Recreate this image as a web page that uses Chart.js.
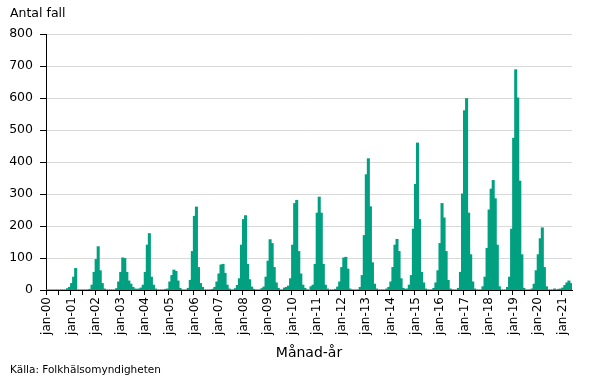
<!DOCTYPE html>
<html><head><meta charset="utf-8">
<script src="https://cdn.jsdelivr.net/npm/chart.js@4.4.1/dist/chart.umd.min.js"></script>
<style>
html,body{margin:0;padding:0;background:#fff;}
#wrap{position:relative;width:605px;height:378px;overflow:hidden;}
canvas{position:absolute;left:0;top:0;}
.t{position:absolute;font-family:"DejaVu Sans";color:#000;white-space:nowrap;line-height:1;}
</style></head><body>
<div id="wrap">
<canvas id="c" width="605" height="378"></canvas>
<div class="t" style="left:10px;top:7px;font-size:12.5px;">Antal fall</div>
<div class="t" style="left:10px;top:364px;font-size:10.5px;">Källa: Folkhälsomyndigheten</div>
</div>
<script>
const monthNames = ['jan','feb','mar','apr','maj','jun','jul','aug','sep','okt','nov','dec'];
const yearLabels = ['00','01','02','03','04','05','06','07','08','09','10','11','12','13','14','15','16','17','18','19','20','21'];
// Antal fall per månad, jan-00 .. maj-21
const antalFall = [
  0,0,0,0,0,0,0,0,0,0,4,8,              // 2000
  20,40,67,0,0,0,0,0,0,2,15,55,         // 2001
  95,135,60,20,3,0,0,0,0,0,4,25,        // 2002
  55,100,98,55,28,18,8,3,2,3,6,15,      // 2003
  55,140,176,40,15,3,0,0,0,0,2,3,       // 2004
  25,45,62,58,28,5,0,0,0,5,30,120,      // 2005
  230,259,70,20,8,0,0,0,0,2,8,25,       // 2006
  50,78,80,52,15,3,0,0,4,14,35,140,     // 2007
  220,232,80,32,9,2,0,0,0,4,9,40,       // 2008
  90,157,145,70,22,5,0,0,6,8,12,35,     // 2009
  140,270,280,120,50,15,5,0,0,10,15,80, // 2010
  240,290,240,80,15,3,0,0,0,2,9,25,     // 2011
  70,100,102,65,3,0,0,0,0,8,45,170,     // 2012
  360,410,260,85,18,3,0,0,0,0,3,8,      // 2013
  25,70,140,158,120,35,5,2,3,15,45,190, // 2014
  330,459,220,55,22,3,0,0,0,5,22,60,    // 2015
  145,270,225,120,30,3,0,0,0,5,55,300,  // 2016
  560,598,240,110,25,3,0,0,0,10,40,130, // 2017
  250,315,342,285,140,10,0,0,0,8,40,190,// 2018
  474,688,600,340,110,5,0,0,0,3,18,60,  // 2019
  110,160,194,70,10,0,0,0,3,0,2,3,      // 2020
  6,14,22,28,20                         // 2021
];
const yTicks = [0,100,200,300,400,500,600,700,800];
const categories = yearLabels.flatMap(y => monthNames.map(m => m + '-' + y)).slice(0, antalFall.length);

const FONT = 'DejaVu Sans';
const BAR = '#00A080';
new Chart(document.getElementById('c'), {
  type: 'bar',
  data: {
    labels: categories,
    datasets: [{
      data: antalFall,
      backgroundColor: BAR,
      borderWidth: 0,
      inflateAmount: 0.5,
      barPercentage: 1,
      categoryPercentage: 1
    }]
  },
  options: {
    responsive: false,
    animation: false,
    devicePixelRatio: 1,
    datasets: { bar: { barPercentage: 1, categoryPercentage: 1, inflateAmount: 0.5 } },
    layout: { padding: { left: 0, right: 33, top: 34, bottom: 16 } },
    plugins: { legend: { display: false }, tooltip: { enabled: false } },
    scales: {
      x: {
        type: 'category',
        offset: true,
        grid: {
          display: true, offset: true, drawOnChartArea: false, drawTicks: true, tickLength: 5,
          tickColor: (ctx) => (ctx.index % 6 === 0 ? '#000' : 'rgba(0,0,0,0)')
        },
        border: { display: true, color: '#000', width: 1 },
        ticks: {
          autoSkip: false, maxRotation: 90, minRotation: 90, padding: 2, color: '#000',
          font: { family: FONT, size: 12 },
          callback: (v, i) => (i % 12 === 0 ? categories[i] : '')
        },
        title: { display: true, text: 'Månad-år', color: '#000', font: { family: FONT, size: 14 }, padding: 0 },
        afterFit: (s) => { s.height = 72; }
      },
      y: {
        min: yTicks[0], max: yTicks[yTicks.length - 1],
        afterBuildTicks: (s) => { s.ticks = yTicks.map(v => ({ value: v })); },
        ticks: { color: '#000', padding: 7, font: { family: FONT, size: 12.5 } },
        grid: { color: '#d9d9d9', tickColor: '#000', tickLength: 6, drawTicks: true },
        border: { display: true, color: '#000', width: 1 },
        afterFit: (s) => { s.width = 46; }
      }
    }
  }
});
</script>
</body></html>
